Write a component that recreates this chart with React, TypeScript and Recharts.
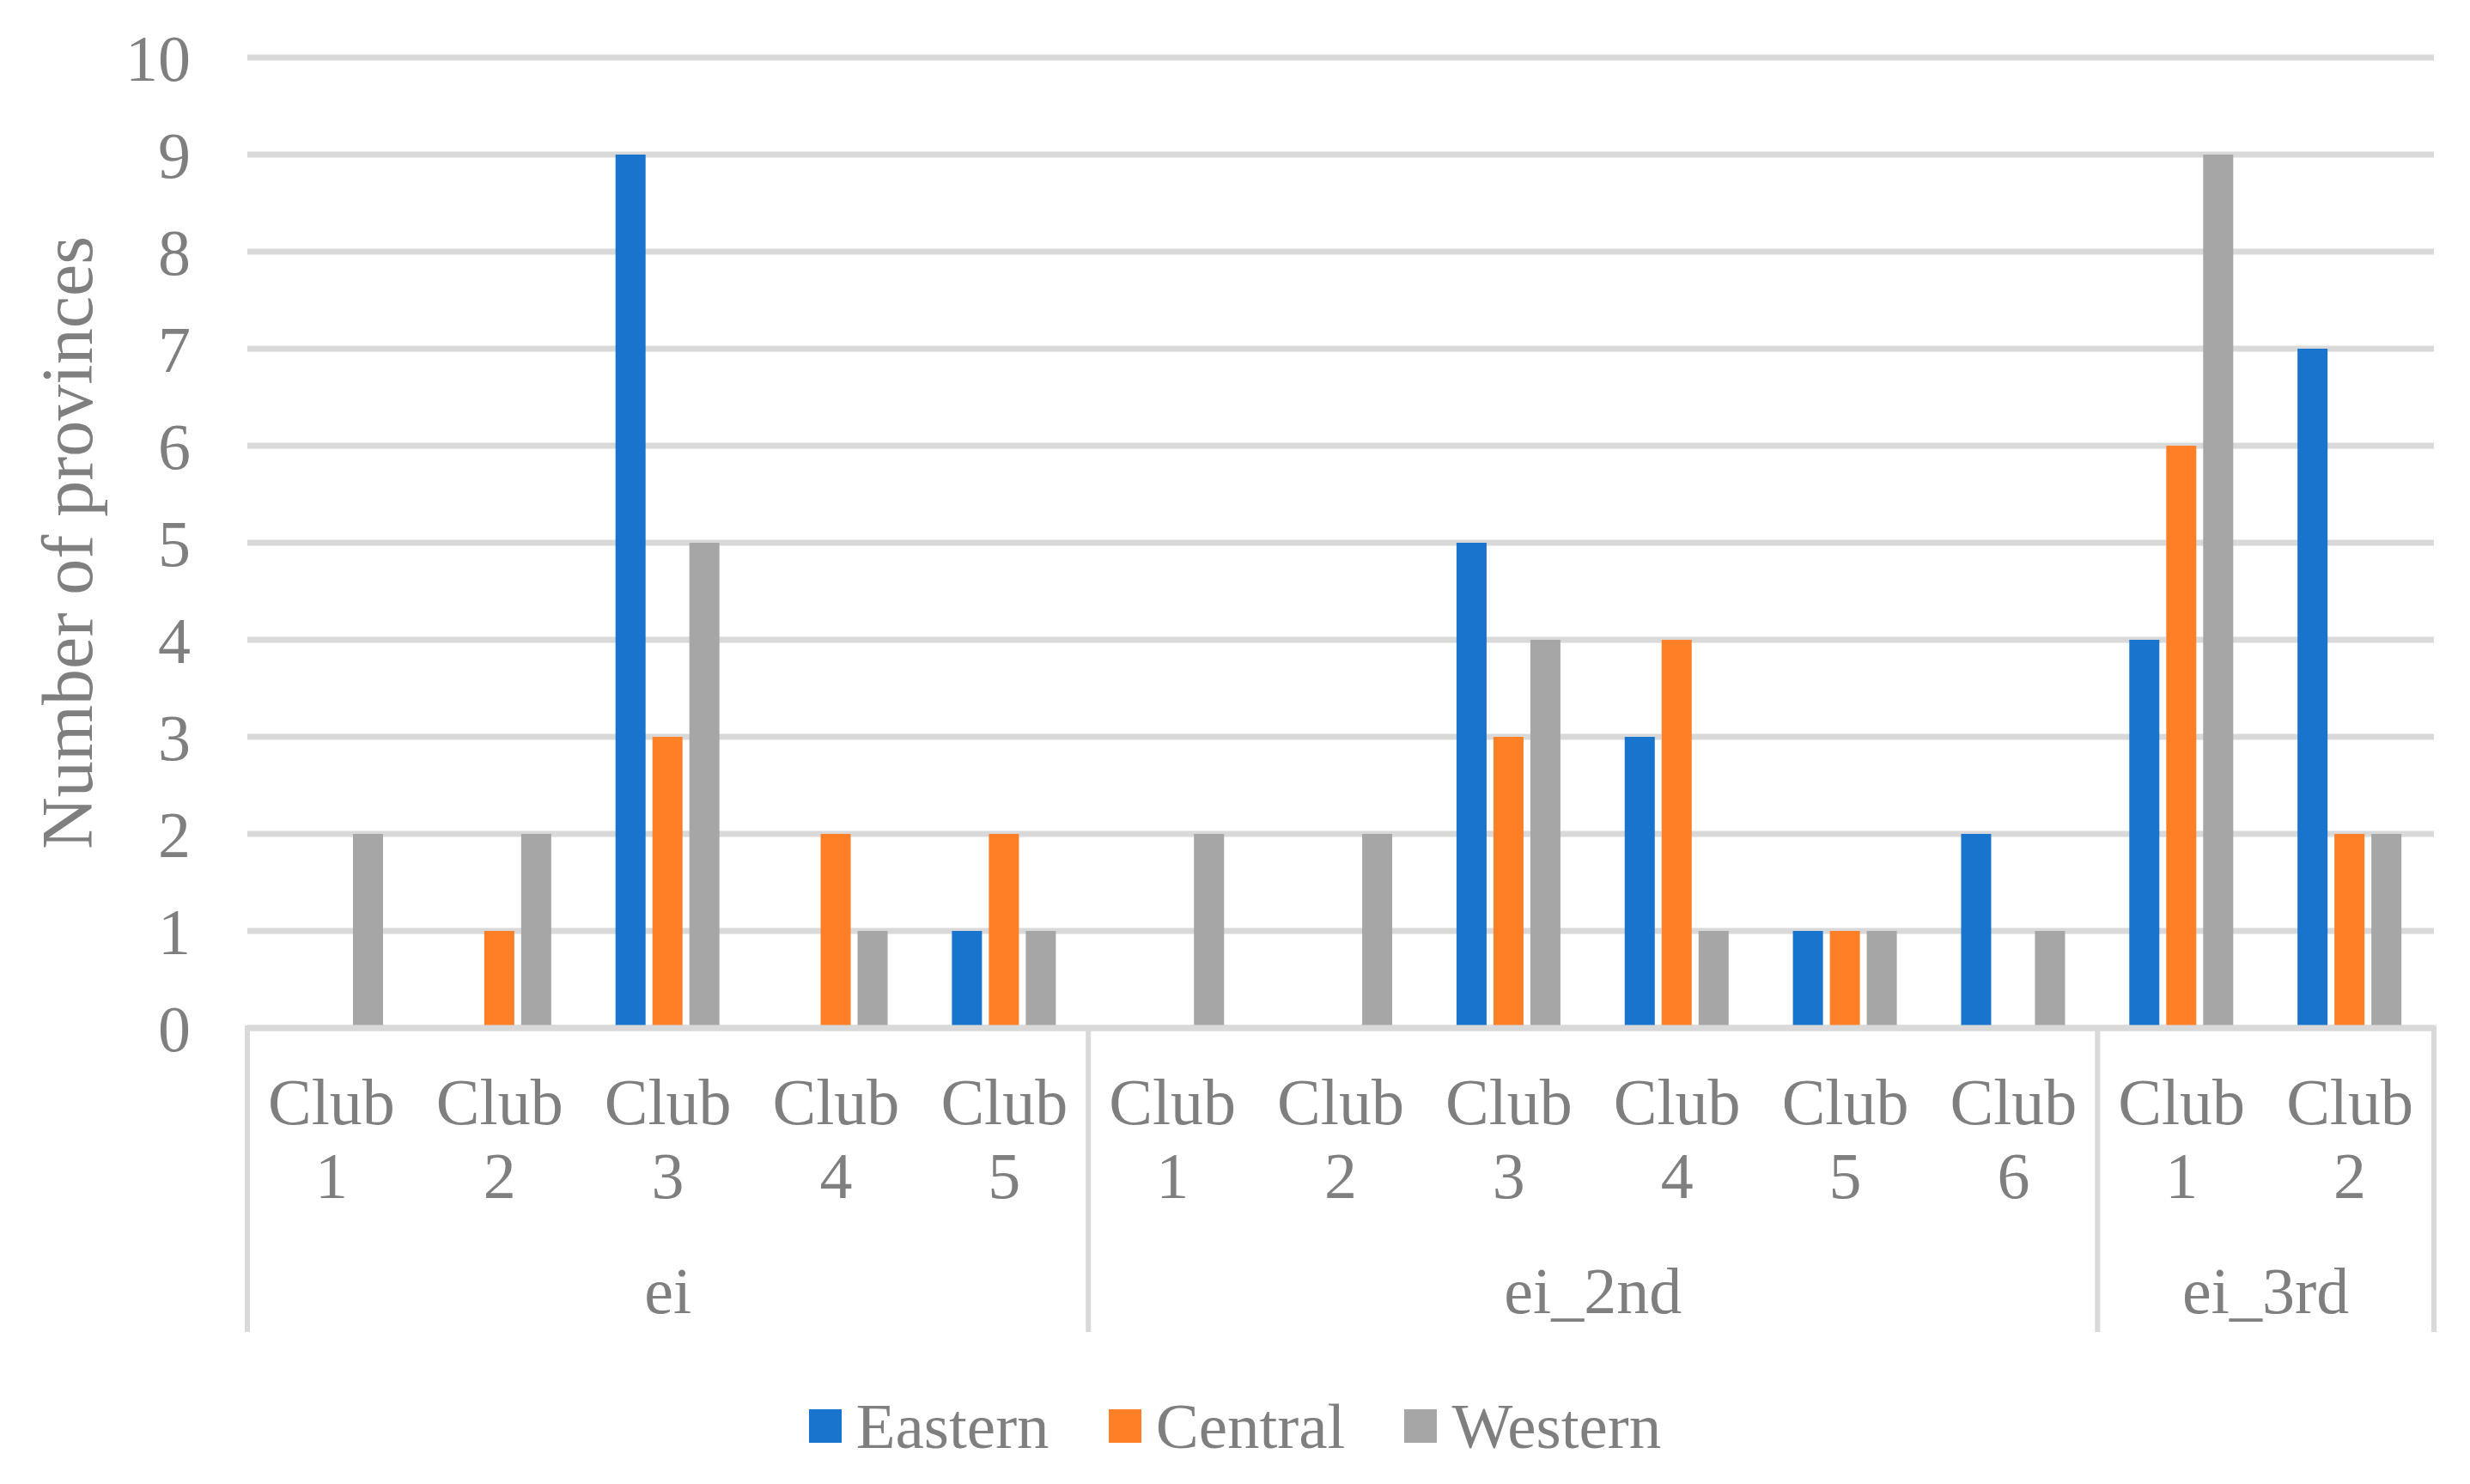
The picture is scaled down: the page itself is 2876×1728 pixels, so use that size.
import React from "react";
import {
  BarChart,
  Bar,
  XAxis,
  YAxis,
  CartesianGrid,
  Legend,
} from "recharts";

// Category structure of the multi-level axis
const groupNames = ["ei", "ei_2nd", "ei_3rd"];
const groupSizes = [5, 6, 2];
const clubLabels = [
  "1", "2", "3", "4", "5",
  "1", "2", "3", "4", "5", "6",
  "1", "2",
];

// Number of provinces per club
const eastern = [0, 0, 9, 0, 1, 0, 0, 5, 3, 1, 2, 4, 7];
const central = [0, 1, 3, 2, 2, 0, 0, 3, 4, 1, 0, 6, 2];
const western = [2, 2, 5, 1, 1, 2, 2, 4, 1, 1, 1, 9, 2];

const yTicks = [0, 1, 2, 3, 4, 5, 6, 7, 8, 9, 10];

const COLORS = {
  Eastern: "#1874CD",
  Central: "#FF7F27",
  Western: "#A6A6A6",
};

const TEXT = "#7F7F7F";
const GRID = "#D9D9D9";
const FONT = "'Liberation Serif', 'Times New Roman', serif";

// group index and position inside the group for every category
const groupOf: number[] = [];
const posOf: number[] = [];
groupSizes.forEach((size, g) => {
  for (let p = 0; p < size; p++) {
    groupOf.push(g);
    posOf.push(p);
  }
});

const chartData = clubLabels.map((num, i) => ({
  name: `${groupNames[groupOf[i]]}-Club ${num}`,
  Eastern: eastern[i],
  Central: central[i],
  Western: western[i],
}));

// Two-level category tick: "Club / N", plus group label and separators
const MultiLevelTick = (props: any) => {
  const { x, y, payload } = props;
  const i = payload.index;
  const half = payload.offset ?? 0;
  const g = groupOf[i];
  const p = posOf[i];
  const size = groupSizes[g];
  const isLast = i === clubLabels.length - 1;
  const textStyle = { fontFamily: FONT, fontSize: 76, fill: TEXT };

  return (
    <g>
      <text x={x} y={y + 112} textAnchor="middle" style={textStyle}>
        Club
      </text>
      <text x={x} y={y + 198} textAnchor="middle" style={textStyle}>
        {clubLabels[i]}
      </text>
      {p === 0 && (
        <>
          <line
            x1={x - half}
            x2={x - half}
            y1={y - 3}
            y2={y + 354}
            stroke={GRID}
            strokeWidth={6}
          />
          <text
            x={x - half + size * half}
            y={y + 332}
            textAnchor="middle"
            style={textStyle}
          >
            {groupNames[g]}
          </text>
        </>
      )}
      {isLast && (
        <line
          x1={x + half}
          x2={x + half}
          y1={y - 3}
          y2={y + 354}
          stroke={GRID}
          strokeWidth={6}
        />
      )}
    </g>
  );
};

const renderLegend = () => {
  const items = ["Eastern", "Central", "Western"] as const;
  return (
    <div
      style={{
        display: "flex",
        justifyContent: "center",
        alignItems: "center",
        height: 100,
        fontFamily: FONT,
        fontSize: 75,
        color: TEXT,
        lineHeight: 1,
      }}
    >
      {items.map((name, idx) => (
        <div
          key={name}
          style={{
            display: "flex",
            alignItems: "center",
            marginLeft: idx === 0 ? 0 : 69,
          }}
        >
          <span
            style={{
              display: "inline-block",
              width: 38,
              height: 39,
              background: COLORS[name],
              marginRight: 17,
            }}
          />
          <span>{name}</span>
        </div>
      ))}
    </div>
  );
};

export default function App() {
  return (
    <div style={{ width: 2876, height: 1728, background: "#fff" }}>
      <style>{`body{margin:0;}`}</style>
      <BarChart
        width={2876}
        height={1728}
        data={chartData}
        margin={{ top: 67, right: 42, left: 0, bottom: 18 }}
        barGap={8}
        barSize={35}
      >
        <CartesianGrid
          horizontal={true}
          vertical={false}
          stroke={GRID}
          strokeWidth={7}
        />
        <XAxis
          dataKey="name"
          interval={0}
          height={413}
          tickSize={0}
          tickMargin={0}
          tickLine={false}
          axisLine={{ stroke: GRID, strokeWidth: 7 }}
          tick={<MultiLevelTick />}
        />
        <YAxis
          width={288}
          domain={[0, 10]}
          ticks={yTicks}
          interval={0}
          allowDecimals={false}
          axisLine={false}
          tickLine={false}
          tickSize={0}
          tickMargin={66}
          tick={{ fontFamily: FONT, fontSize: 76, fill: TEXT }}
          label={{
            content: (lp: any) => {
              const vb = lp.viewBox || { x: 0, y: 67, width: 288, height: 1131 };
              const cx = vb.x + 107;
              const cy = vb.y + vb.height / 2;
              return (
                <text
                  x={cx}
                  y={cy}
                  transform={`rotate(-90 ${cx} ${cy})`}
                  textAnchor="middle"
                  style={{ fontFamily: FONT, fontSize: 84, fill: TEXT }}
                >
                  Number of provinces
                </text>
              );
            },
          }}
        />
        <Legend
          verticalAlign="bottom"
          width={2876}
          wrapperStyle={{ left: 0 }}
          content={renderLegend}
        />
        <Bar dataKey="Eastern" fill={COLORS.Eastern} isAnimationActive={false} />
        <Bar dataKey="Central" fill={COLORS.Central} isAnimationActive={false} />
        <Bar dataKey="Western" fill={COLORS.Western} isAnimationActive={false} />
      </BarChart>
    </div>
  );
}
